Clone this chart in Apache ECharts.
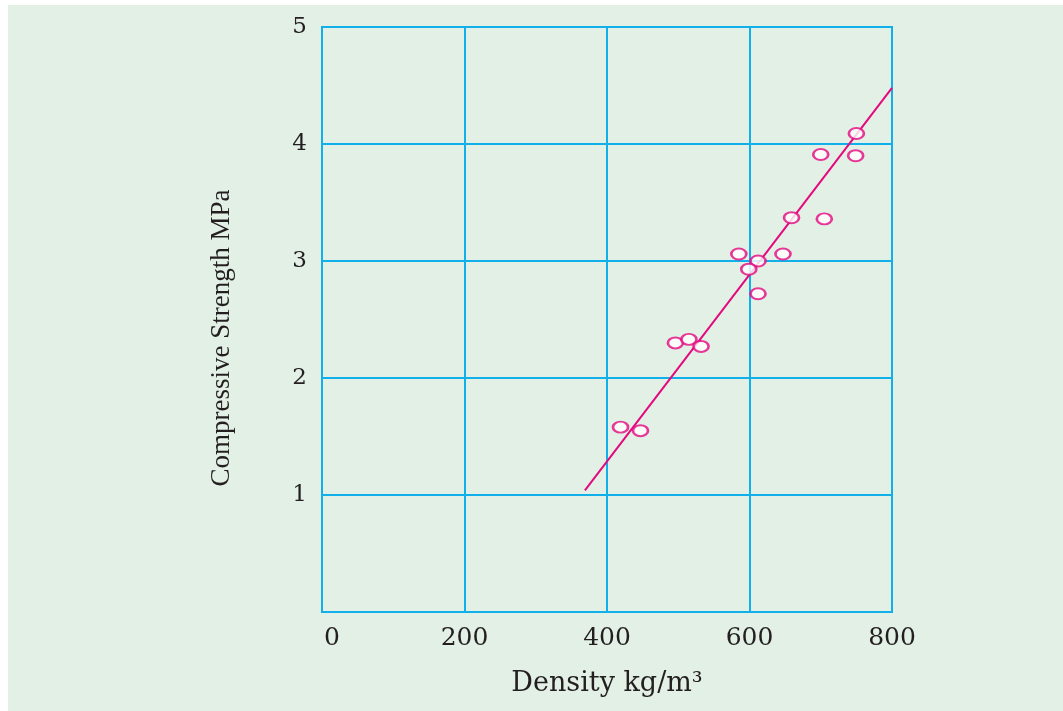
<!DOCTYPE html>
<html>
<head>
<meta charset="utf-8">
<script src="https://cdn.jsdelivr.net/npm/echarts@6/dist/echarts.min.js"></script>
<style>
  html, body { margin: 0; padding: 0; background: #ffffff; }
  #chart { width: 1063px; height: 711px; }
</style>
</head>
<body>
<div id="chart"></div>
<script>
// Measured specimens: density (kg/m3) and compressive strength (MPa)
const densityValues = [750, 700, 749, 659, 705, 585, 647, 612, 599, 612, 496, 515, 532, 419, 447];
const strengthValues = [4.09, 3.91, 3.90, 3.37, 3.36, 3.06, 3.06, 3.00, 2.93, 2.72, 2.30, 2.33, 2.27, 1.58, 1.55];

// Trend line end points
const fitDensity = [369, 800];
const fitStrength = [1.04, 4.48];

// Axis ticks
const xTicks = [0, 200, 400, 600, 800];
const yTicks = [1, 2, 3, 4, 5];

const blue = '#12b0ea';
const magenta = '#e4097f';
const ink = '#231f20';
const serifWide = 'DejaVu Serif';
const serif = 'Liberation Serif';

const points = densityValues.map((d, i) => [d, strengthValues[i]]);
const fitLine = fitDensity.map((d, i) => [d, fitStrength[i]]);

const chart = echarts.init(document.getElementById('chart'), null, { renderer: 'canvas' });

chart.setOption({
  animation: false,
  backgroundColor: '#ffffff',
  graphic: [
    {
      type: 'rect',
      left: 8, top: 5,
      shape: { width: 1063 - 8, height: 711 - 5 },
      style: { fill: '#e3f0e6' },
      z: -10,
      silent: true
    },
    {
      // vertical axis title
      type: 'text',
      x: 222, y: 338,
      rotation: Math.PI / 2,
      style: {
        text: 'Compressive Strength MPa',
        fontFamily: serif, fontSize: 27, fill: ink,
        align: 'center', verticalAlign: 'middle'
      },
      silent: true
    }
  ],
  grid: {
    left: 322, right: 171, top: 27, bottom: 99,
    show: true,
    borderColor: blue,
    borderWidth: 2,
    backgroundColor: 'transparent'
  },
  xAxis: {
    type: 'value',
    min: xTicks[0], max: xTicks[xTicks.length - 1], interval: 200,
    name: 'Density kg/m³',
    nameLocation: 'middle',
    nameGap: 58,
    nameTextStyle: { fontFamily: serifWide, fontSize: 27, color: ink },
    axisLine: { show: true, lineStyle: { color: blue, width: 2 } },
    axisTick: { show: false },
    splitLine: { show: true, lineStyle: { color: blue, width: 2 } },
    axisLabel: {
      margin: 14,
      fontFamily: serifWide, fontSize: 25, color: ink,
      formatter: v => (v === 0 ? '{z|0}' : String(v)),
      rich: { z: { fontFamily: serifWide, fontSize: 25, color: ink, padding: [0, 0, 0, 20] } }
    }
  },
  yAxis: {
    type: 'value',
    min: 0, max: yTicks[yTicks.length - 1], interval: 1,
    axisLine: { show: true, lineStyle: { color: blue, width: 2 } },
    axisTick: { show: false },
    splitLine: { show: true, lineStyle: { color: blue, width: 2 } },
    axisLabel: {
      margin: 15,
      fontFamily: serifWide, fontSize: 23, color: ink,
      formatter: v => (yTicks.includes(v) ? String(v) : '')
    }
  },
  series: [
    {
      type: 'line',
      data: fitLine,
      showSymbol: false,
      symbol: 'none',
      lineStyle: { color: magenta, width: 2 },
      z: 3
    },
    {
      type: 'scatter',
      data: points,
      symbol: 'circle',
      symbolSize: [15, 11],
      itemStyle: { color: '#ffffff', borderColor: magenta, borderWidth: 2.3 },
      z: 4
    }
  ]
});
</script>
</body>
</html>
